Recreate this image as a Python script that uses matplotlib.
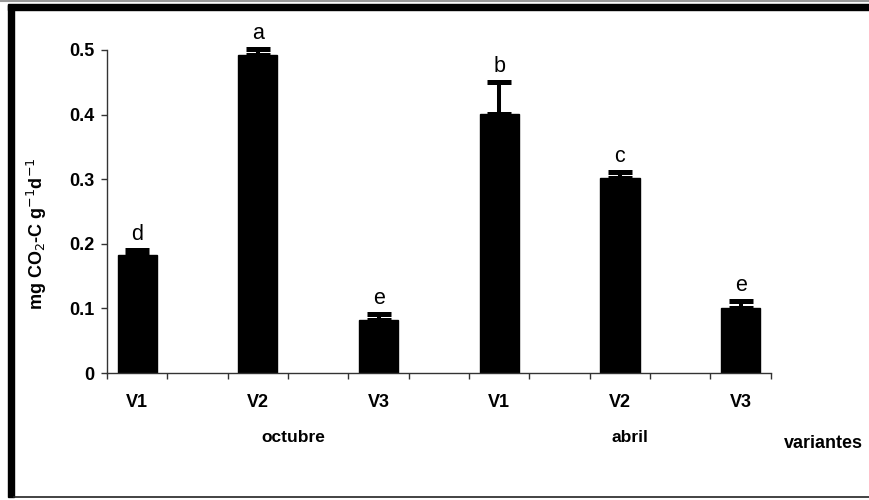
import numpy as np
import matplotlib.pyplot as plt
from matplotlib.patches import Rectangle
from matplotlib.lines import Line2D

# ---  DATA  --- #
variants = ['V1', 'V2', 'V3', 'V1', 'V2', 'V3']
months = ['octubre', 'abril']
values = [0.182, 0.493, 0.082, 0.401, 0.302, 0.101]
errors = [0.009, 0.008, 0.009, 0.050, 0.009, 0.010]
letters = ['d', 'a', 'e', 'b', 'c', 'e']

plt.rcParams['font.family'] = ['Liberation Sans', 'DejaVu Sans']

fig = plt.figure(figsize=(8.7, 5), dpi=100)
ax = fig.add_axes([0.123, 0.254, 0.763, 0.646])

# Bars sit on every other category slot (Excel-style empty slots between)
x = np.arange(len(values)) * 2
ax.bar(x, values, width=0.65, color='black', edgecolor='black', zorder=2)
ax.errorbar(x, values, yerr=[np.zeros(len(errors)), errors], fmt='none',
            ecolor='black', elinewidth=2.9, capsize=8.6, capthick=3.6,
            zorder=3, clip_on=False)
for xi, v, e, lt in zip(x, values, errors, letters):
    ax.annotate(lt, (xi, v + e), xytext=(0, 3.5), textcoords='offset points',
                ha='center', va='bottom', fontsize=15.5,
                annotation_clip=False)

# Axes formatting
ax.set_xlim(-0.5, x[-1] + 0.5)
ax.set_ylim(0, 0.5)
ax.set_yticks(np.arange(0, 0.51, 0.1))
ax.set_yticklabels(['0', '0.1', '0.2', '0.3', '0.4', '0.5'],
                   fontsize=13, fontweight='bold')
ax.set_xticks(np.arange(-0.5, x[-1] + 1, 1.0))
ax.set_xticklabels([])
ax.set_xticks(x, minor=True)
ax.set_xticklabels(variants, minor=True, fontsize=13, fontweight='bold')
ax.tick_params(axis='x', which='minor', length=0, pad=15)
ax.tick_params(axis='both', which='major', length=4, width=1, color='#333333')
ax.tick_params(axis='y', pad=5)
for side in ['top', 'right']:
    ax.spines[side].set_visible(False)
for side in ['left', 'bottom']:
    ax.spines[side].set_color('#333333')
    ax.spines[side].set_linewidth(1)

ax.set_ylabel(r'mg CO$_2$-C g$^{-1}$d$^{-1}$', fontsize=13,
              fontweight='bold')
ax.yaxis.set_label_coords(-0.087, 0.43)

# Month group labels and axis title
for m, mx in zip(months, [0.337, 0.724]):
    fig.text(mx, 0.126, m, ha='center', va='center',
             fontsize=12.5, fontweight='bold')
fig.text(0.947, 0.114, 'variantes', ha='center', va='center',
         fontsize=13, fontweight='bold')

# Frame around the picture
fig.add_artist(Line2D([0, 1], [0.999, 0.999], color='#999999', lw=1.5,
                      transform=fig.transFigure))
fig.add_artist(Rectangle((0.009, 0.980), 0.991, 0.011, color='black',
                         transform=fig.transFigure))
fig.add_artist(Rectangle((0.009, 0.006), 0.007, 0.985, color='black',
                         transform=fig.transFigure))
fig.add_artist(Line2D([0.016, 1], [0.006, 0.006], color='#222222', lw=1.2,
                      transform=fig.transFigure))

fig.savefig('out.png', dpi=100)
